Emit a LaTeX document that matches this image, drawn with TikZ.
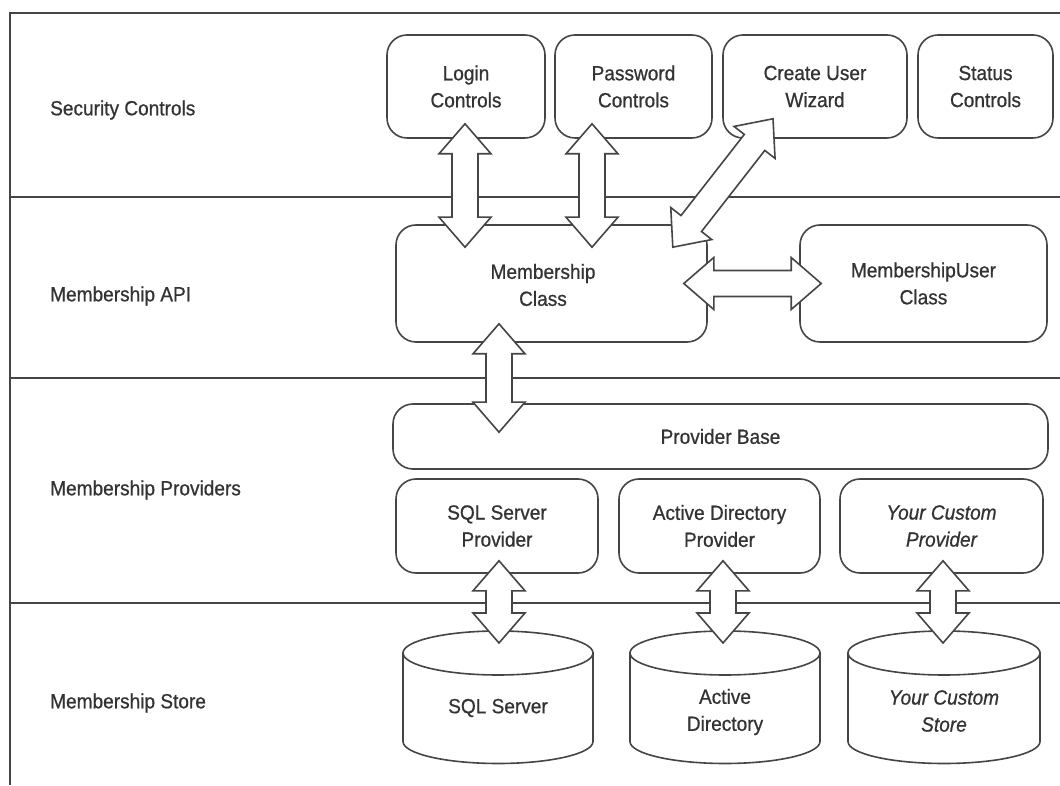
\documentclass[tikz,border=0pt]{standalone}
\usepackage{fontspec}
\setmainfont{Liberation Sans}[FakeStretch=0.93, FakeBold=0.7]
\usetikzlibrary{calc}
\definecolor{ink}{HTML}{333333}
\definecolor{linec}{HTML}{454545}
\newcommand\dfont{\fontsize{20.5}{27}\selectfont}
\tikzset{
  box/.style={draw=linec, line width=1.6pt, rounded corners=20pt, fill=white,
    align=center, text=ink, inner sep=0pt, font=\dfont},
  txt/.style={align=center, text=ink, inner sep=0pt, font=\dfont},
  lbl/.style={anchor=west, text=ink, inner sep=0pt, font=\dfont},
  barrow/.style={draw=linec, line width=1.6pt, fill=white, line join=miter},
  sec/.style={draw=linec, line width=2.2pt},
  cyl/.style={draw=linec, line width=1.6pt, fill=white}
}
\newcommand\blockarrow[2]{%
  \path let \p1=(#1), \p2=(#2),
    \n1={atan2(\y2-\y1,\x2-\x1)}, \n2={veclen(\x2-\x1,\y2-\y1)} in
    \pgfextra{\xdef\bax{\x1}\xdef\bay{\y1}\xdef\baang{\n1}\xdef\balen{\n2}};
  \begin{scope}[shift={(\bax,\bay)}, rotate=\baang]
    \draw[barrow] (0,0) -- (30,26) -- (30,13) -- ({\balen-30},13) -- ({\balen-30},26)
      -- (\balen,0) -- ({\balen-30},-26) -- ({\balen-30},-13) -- (30,-13) -- (30,-26) -- cycle;
  \end{scope}}
\begin{document}
\begin{tikzpicture}[x=1pt,y=1pt]
\useasboundingbox (0,0) rectangle (1060,785);
\fill[white] (0,0) rectangle (1060,785);
% frame and layer lines
\draw[sec] (1060,772) -- (10,772) -- (10,0);
\draw[sec] (10,588) -- (1060,588);
\draw[sec] (10,407) -- (1060,407);
\draw[sec] (10,182) -- (1060,182);
% layer labels
\node[lbl] (l1) at (50,675) {Security Controls};
\node[lbl] (l2) at (50,489) {Membership API};
\node[lbl] (l3) at (50,295) {Membership Providers};
\node[lbl] (l4) at (50,82) {Membership Store};
% security controls
\node[box, minimum width=158pt, minimum height=103pt] (login) at (466,698.5) {Login\\Controls};
\node[box, minimum width=157pt, minimum height=103pt] (password) at (633.5,698.5) {Password\\Controls};
\node[box, minimum width=184pt, minimum height=103pt] (wizard) at (815,698.5) {Create User\\Wizard};
\node[box, minimum width=135pt, minimum height=103pt] (status) at (985.5,698.5) {Status\\Controls};
% membership API
\node[box, minimum width=311pt, minimum height=117pt] (memclass) at (551.5,501.5) {};
\node[txt] (memclasstxt) at (543,500) {Membership\\Class};
\node[box, minimum width=247pt, minimum height=117pt] (memuser) at (923.5,501.5) {MembershipUser\\Class};
% providers
\node[box, minimum width=655pt, minimum height=65pt] (provbase) at (720.5,348.5) {Provider Base};
\node[box, minimum width=202pt, minimum height=94pt] (sqlprov) at (497,259) {SQL Server\\Provider};
\node[box, minimum width=201pt, minimum height=94pt] (adprov) at (719.5,259) {Active Directory\\Provider};
\node[box, minimum width=203pt, minimum height=94pt, font=\dfont\itshape] (custprov) at (941.5,259) {Your Custom\\Provider};
% stores
\draw[cyl] (403,132) -- (403,43.5) arc[start angle=180, end angle=360, x radius=95, y radius=22] -- (593,132) -- cycle;
\draw[cyl] (498,132) ellipse [x radius=95, y radius=22];
\draw[cyl] (630,132) -- (630,43.5) arc[start angle=180, end angle=360, x radius=95, y radius=22] -- (820,132) -- cycle;
\draw[cyl] (725,132) ellipse [x radius=95, y radius=22];
\draw[cyl] (848,132) -- (848,43.5) arc[start angle=180, end angle=360, x radius=96, y radius=22] -- (1040,132) -- cycle;
\draw[cyl] (944,132) ellipse [x radius=96, y radius=22];
\coordinate (sqltop) at (498,132);
\coordinate (adtop) at (725,132);
\coordinate (custtop) at (944,132);
\node[txt] (sqlstore) at (498,77) {SQL Server};
\node[txt] (adstore) at (725,73) {Active\\Directory};
\node[txt, font=\dfont\itshape] (custstore) at (944,74) {Your Custom\\Store};
% block arrows
\blockarrow{$(login.south)+(-1,15)$}{$(memclass.north -| login.south)+(-1,-23)$}
\blockarrow{$(password.south)+(-41.5,15)$}{$(memclass.north -| password.south)+(-41.5,-23)$}
\blockarrow{$(memclass.north east)+(-35,-23)$}{$(wizard.south)+(-42,20)$}
\blockarrow{$(memclass.east)+(-24,0)$}{$(memuser.west)+(22,0)$}
\blockarrow{$(memclass.south)+(-52.5,19)$}{$(memclass.south |- provbase.north)+(-52.5,-29)$}
\blockarrow{$(sqlprov.south)+(2,13)$}{$(sqltop)+(1,10)$}
\blockarrow{$(adprov.south)+(3.5,13)$}{$(adtop)+(-2,10)$}
\blockarrow{$(custprov.south)+(1.5,13)$}{$(custtop)+(-1,10)$}
\end{tikzpicture}
\end{document}
